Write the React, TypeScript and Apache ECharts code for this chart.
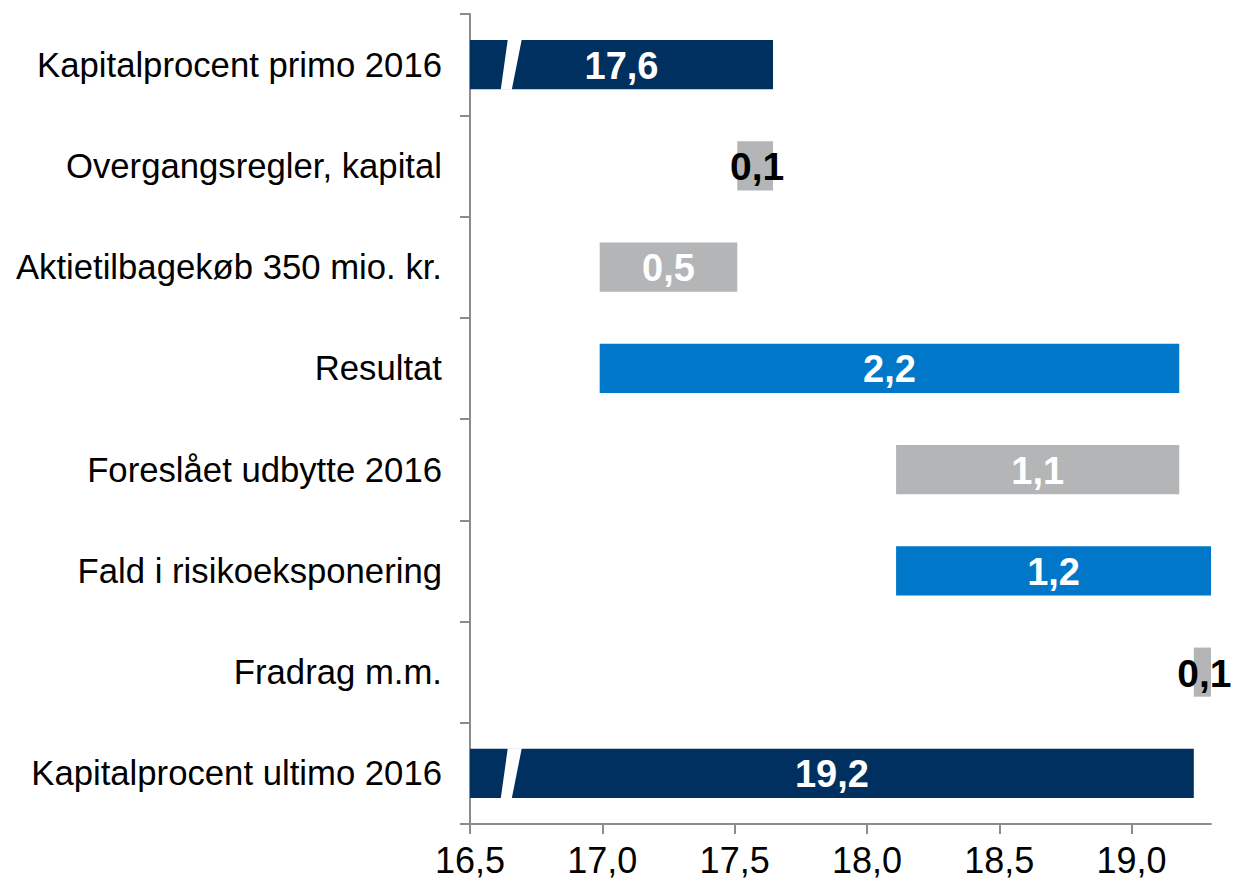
import React, { useEffect, useRef } from "react";
import * as echarts from "echarts";

const categories = [
  "Kapitalprocent primo 2016",
  "Overgangsregler, kapital",
  "Aktietilbagekøb 350 mio. kr.",
  "Resultat",
  "Foreslået udbytte 2016",
  "Fald i risikoeksponering",
  "Fradrag m.m.",
  "Kapitalprocent ultimo 2016",
];
const barStart = [16.5, 17.51, 16.99, 16.99, 18.11, 18.11, 19.235, 16.5];
const barEnd = [17.645, 17.645, 17.51, 19.18, 19.18, 19.3, 19.3, 19.235];
const barLabels = ["17,6", "0,1", "0,5", "2,2", "1,1", "1,2", "0,1", "19,2"];
const barKinds = ["total", "minus", "minus", "plus", "minus", "plus", "minus", "total"];
const breakRows = [0, 7];
const breakValue = 16.62;
const axisMin = 16.5;
const axisMax = 19.3;
const axisStep = 0.5;

const COLORS: Record<string, string> = {
  total: "#00305F",
  plus: "#0077C8",
  minus: "#B4B5B7",
};
const FONT = '"Liberation Sans", Arial, Helvetica, sans-serif';

export default function App() {
  const ref = useRef<HTMLDivElement>(null);
  useEffect(() => {
    if (!ref.current) return;
    const chart = echarts.init(ref.current, undefined, { renderer: "svg" });
    const data = categories.map((_, i) => [i, barStart[i], barEnd[i]]);
    const option: any = {
      animation: false,
      grid: { left: 470, right: 23, top: 14, bottom: 64 },
      xAxis: {
        type: "value",
        min: axisMin,
        max: axisMax,
        interval: axisStep,
        axisLine: { show: true, lineStyle: { color: "#8C8C8C", width: 2 } },
        axisTick: { show: true, length: 10, lineStyle: { color: "#8C8C8C", width: 2 } },
        splitLine: { show: false },
        axisLabel: {
          showMaxLabel: false,
          fontSize: 36,
          fontFamily: FONT,
          color: "#000",
          margin: 18,
          formatter: (v: number) => v.toFixed(1).replace(".", ","),
        },
      },
      yAxis: {
        type: "category",
        data: categories,
        inverse: true,
        axisLine: { show: true, lineStyle: { color: "#8C8C8C", width: 2 } },
        axisTick: { show: true, length: 10, lineStyle: { color: "#8C8C8C", width: 2 } },
        axisLabel: { fontSize: 34.7, fontFamily: FONT, color: "#000", margin: 28 },
      },
      series: [
        {
          type: "custom",
          encode: { x: [1, 2], y: 0 },
          data,
          clip: false,
          renderItem: (params: any, api: any) => {
            const idx = api.value(0);
            const s = api.value(1);
            const e = api.value(2);
            const p0 = api.coord([s, idx]);
            const p1 = api.coord([e, idx]);
            const band = api.size([0, 1])[1];
            const h = band * 0.485;
            const x0 = p0[0];
            const x1 = p1[0];
            const top = p0[1] - h / 2;
            const w = x1 - x0;
            const kind = barKinds[idx];
            const small = w < 60;
            const children: any[] = [
              {
                type: "rect",
                shape: { x: x0, y: top, width: w, height: h },
                style: { fill: COLORS[kind] },
              },
            ];
            if (breakRows.includes(idx)) {
              const c = api.coord([breakValue, idx])[0];
              children.push({
                type: "polygon",
                shape: {
                  points: [
                    [c + 6, top - 0.5],
                    [c + 20, top - 0.5],
                    [c + 10, top + h + 0.5],
                    [c - 1, top + h + 0.5],
                  ],
                },
                style: { fill: "#ffffff" },
              });
            }
            children.push({
              type: "text",
              x: (x0 + x1) / 2 + (small ? 2 : 0),
              y: p0[1] + 1,
              style: {
                text: barLabels[idx],
                fill: small ? "#000" : "#fff",
                fontSize: small ? 39 : 38,
                fontWeight: "bold",
                fontFamily: FONT,
                align: "center",
                verticalAlign: "middle",
                textAlign: "center",
                textVerticalAlign: "middle",
              },
            });
            return { type: "group", children };
          },
        },
      ],
    };
    chart.setOption(option);
    return () => chart.dispose();
  }, []);
  return (
    <div
      ref={ref}
      style={{ position: "absolute", left: 0, top: 0, width: 1234, height: 888, background: "#fff" }}
    />
  );
}
